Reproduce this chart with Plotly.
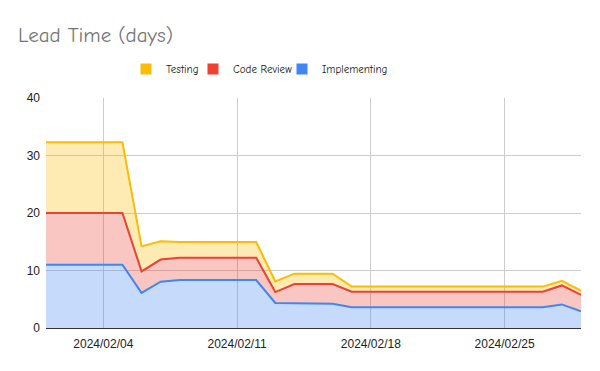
import plotly.graph_objects as go
import pandas as pd

dates = pd.date_range("2024-02-01", "2024-02-29", freq="D").strftime("%Y-%m-%d").tolist()

# cumulative tops (per day)
implementing = [11.0, 11.0, 11.0, 11.0, 11.0, 6.1, 8.05, 8.35, 8.35, 8.35, 8.35, 8.35,
                4.35, 4.3, 4.25, 4.2, 3.6, 3.6, 3.6, 3.6, 3.6, 3.6, 3.6, 3.6, 3.6, 3.6, 3.6, 4.1, 2.9]
review_top = [20.0, 20.0, 20.0, 20.0, 20.0, 9.85, 11.9, 12.2, 12.2, 12.2, 12.2, 12.2,
              6.25, 7.65, 7.65, 7.65, 6.3, 6.3, 6.3, 6.3, 6.3, 6.3, 6.3, 6.3, 6.3, 6.3, 6.3, 7.4, 5.75]
testing_top = [32.3, 32.3, 32.3, 32.3, 32.3, 14.2, 15.1, 14.95, 14.95, 14.95, 14.95, 14.95,
               8.1, 9.45, 9.45, 9.45, 7.2, 7.2, 7.2, 7.2, 7.2, 7.2, 7.2, 7.2, 7.2, 7.2, 7.2, 8.2, 6.5]

code_review = [round(r - i, 2) for r, i in zip(review_top, implementing)]
testing = [round(t - r, 2) for t, r in zip(testing_top, review_top)]

series_names = ["Implementing", "Code Review", "Testing"]
series_values = [implementing, code_review, testing]
line_colors = ["#4285f4", "#ea4335", "#fbbc04"]
fill_colors = ["rgba(66,133,244,0.3)", "rgba(234,67,53,0.3)", "rgba(251,188,4,0.3)"]

y_ticks = [0, 10, 20, 30, 40]
x_ticks = ["2024-02-04", "2024-02-11", "2024-02-18", "2024-02-25"]
x_tick_labels = ["2024/02/04", "2024/02/11", "2024/02/18", "2024/02/25"]

comic = "Comic Sans MS, Comic Neue, Lato, sans-serif"
arial = "Liberation Sans, Arial, sans-serif"

L, R, T, B = 46, 19, 98, 43
PW, PH = 600 - L - R, 371 - T - B

fig = go.Figure()
for name, vals, lc, fc in zip(series_names, series_values, line_colors, fill_colors):
    fig.add_trace(go.Scatter(
        x=dates, y=vals, name=name, mode="lines", stackgroup="one",
        line=dict(color=lc, width=2), fillcolor=fc, showlegend=False,
        hoverinfo="x+y+name",
    ))

# legend entries as squares, each in its own legend box for exact placement
legend_ids = {"Testing": "legend", "Code Review": "legend2", "Implementing": "legend3"}
legend_left = {"legend": 126, "legend2": 193, "legend3": 282}
for name, lc in zip(series_names, line_colors):
    fig.add_trace(go.Scatter(
        x=[None], y=[None], name=name, mode="markers", legend=legend_ids[name],
        marker=dict(symbol="square", size=11, color=lc),
    ))

def legend_cfg(px):
    return dict(orientation="h", x=(px - L) / PW, xanchor="left", y=1 + 29 / PH, yanchor="middle",
                font=dict(family=comic, size=11, color="#222222"),
                itemwidth=30, bgcolor="rgba(0,0,0,0)")

fig.update_layout(
    width=600, height=371,
    margin=dict(l=L, r=R, t=T, b=B),
    paper_bgcolor="white", plot_bgcolor="white",
    title=dict(text="Lead Time (days)", x=18 / 600, xanchor="left", y=1 - 35 / 371, yanchor="middle",
               font=dict(family=comic, size=21, color="#757575")),
    legend=legend_cfg(legend_left["legend"]),
    legend2=legend_cfg(legend_left["legend2"]),
    legend3=legend_cfg(legend_left["legend3"]),
    xaxis=dict(range=["2024-02-01", "2024-02-29"], tickvals=x_ticks, ticktext=x_tick_labels,
               showgrid=True, gridcolor="#cccccc", gridwidth=1, zeroline=False,
               showline=False, ticks="", ticklabelstandoff=7,
               tickfont=dict(family=arial, size=12, color="#222222")),
    yaxis=dict(range=[0, 40], tickvals=y_ticks, showgrid=True, gridcolor="#cccccc", gridwidth=1,
               zeroline=True, zerolinecolor="#333333", zerolinewidth=1, showline=False, ticks="",
               ticklabelstandoff=5, tickfont=dict(family=arial, size=12, color="#222222")),
    hovermode="x",
)

fig.write_html("out.html", config={"displayModeBar": False},
               post_script="document.body.style.margin='0';")
